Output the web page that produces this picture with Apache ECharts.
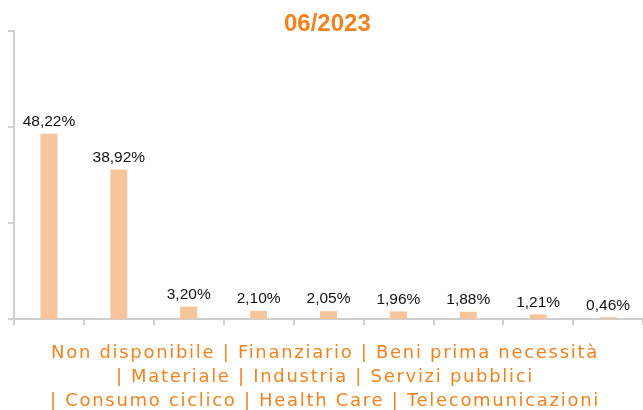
<!DOCTYPE html>
<html>
<head>
<meta charset="utf-8">
<script src="https://cdn.jsdelivr.net/npm/echarts@6/dist/echarts.min.js"></script>
<style>
  html, body { margin: 0; padding: 0; background: #fff; }
  #chart { width: 643px; height: 410px; }
</style>
</head>
<body>
<div id="chart"></div>
<script>
  // settori e pesi in portafoglio
  const categories = ['Non disponibile', 'Finanziario', 'Beni prima necessità', 'Materiale', 'Industria',
    'Servizi pubblici', 'Consumo ciclico', 'Health Care', 'Telecomunicazioni']
  const weights = [48.22, 38.92, 3.20, 2.10, 2.05, 1.96, 1.88, 1.21, 0.46]
  const periodLabel = '06/2023'

  const ORANGE = '#F2821E'
  const BAR = '#F6C59B'
  const AXIS = '#CFCFCF'
  const CAPTION_LEVEL = 1

  // la didascalia va su tre righe come nell'originale
  const caption = [
    categories.slice(0, 3).join(' | '),
    '| ' + categories.slice(3, 6).join(' | '),
    '| ' + categories.slice(6).join(' | ')
  ].join('\n')

  const chart = echarts.init(document.getElementById('chart'))
  chart.setOption({
    animation: false,
    title: {
      text: periodLabel,
      left: 279,
      top: 7,
      textStyle: {
        color: ORANGE,
        fontFamily: 'Liberation Sans',
        fontWeight: 'bold',
        fontSize: 24
      }
    },
    grid: {
      left: 14,
      top: 31,
      width: 630,
      height: 288
    },
    xAxis: {
      type: 'category',
      data: categories,
      boundaryGap: true,
      axisLabel: { show: false },
      axisTick: { show: true, interval: 0, length: 6, lineStyle: { color: AXIS, width: 2 } },
      axisLine: { show: true, lineStyle: { color: AXIS, width: 2 } }
    },
    yAxis: {
      type: 'value',
      min: 0,
      max: 75,
      interval: 25,
      axisLabel: { show: false },
      splitLine: { show: false },
      axisTick: { show: true, length: 6, lineStyle: { color: AXIS, width: 2 } },
      axisLine: { show: true, lineStyle: { color: AXIS, width: 2 } }
    },
    series: [
      {
        type: 'bar',
        data: weights,
        barWidth: 17,
        itemStyle: { color: BAR },
        label: {
          show: true,
          position: 'top',
          distance: 4,
          color: '#111',
          fontFamily: 'Liberation Sans',
          fontSize: 15.5,
          formatter: function(p) {
            return p.value.toFixed(2).replace('.', ',') + '%'
          }
        }
      }
    ],
    graphic: [
      {
        type: 'text',
        zlevel: CAPTION_LEVEL,
        x: 325,
        y: 341,
        style: {
          text: caption,
          fill: ORANGE,
          fontFamily: 'DejaVu Sans',
          fontSize: 18,
          textAlign: 'center',
          lineHeight: 24
        }
      }
    ]
  })

  // la didascalia originale è spaziata: niente letterSpacing in echarts,
  // quindi lo imposto sul canvas del livello della didascalia e ridisegno
  const painter = chart.getZr().painter
  const layer = painter.getLayer && painter.getLayer(CAPTION_LEVEL)
  if (layer && layer.ctx && 'letterSpacing' in layer.ctx) {
    layer.ctx.letterSpacing = '1.7px'
    painter.refresh(true)
  }
</script>
</body>
</html>
